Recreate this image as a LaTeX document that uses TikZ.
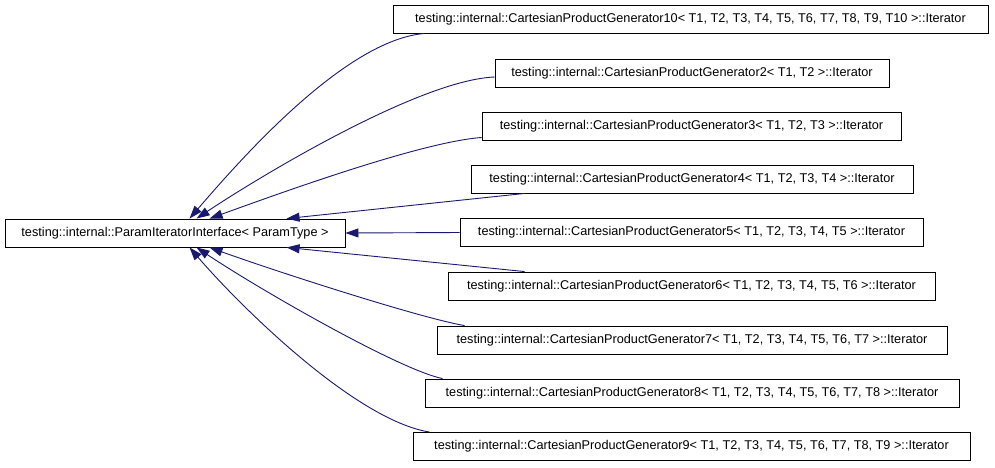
\documentclass[tikz,border=0pt]{standalone}
\usepackage{fontspec}
\setmainfont{Liberation Sans}
\usetikzlibrary{arrows.meta,calc}
\definecolor{edgeblue}{HTML}{191970}
\begin{document}
\begin{tikzpicture}[x=1pt,y=-1pt,
  cls/.style={draw=black, line width=0.9pt, fill=white, minimum height=28pt,
    inner sep=0pt, font=\fontsize{12.7}{14}\selectfont, anchor=center},
  inh/.style={draw=edgeblue, line width=0.9pt,
    -{Triangle[length=13pt,width=9pt]}}]
\useasboundingbox (0,0) rectangle (995,467);
\node[cls, minimum width=340pt] (base) at (175,233) {testing::internal::ParamIteratorInterface< ParamType >};
\node[cls, minimum width=595pt] (g10) at (690.5,19) {testing::internal::CartesianProductGenerator10< T1, T2, T3, T4, T5, T6, T7, T8, T9, T10 >::Iterator};
\node[cls, minimum width=394pt] (g2) at (692,73) {testing::internal::CartesianProductGenerator2< T1, T2 >::Iterator};
\node[cls, minimum width=419pt] (g3) at (691.5,126.5) {testing::internal::CartesianProductGenerator3< T1, T2, T3 >::Iterator};
\node[cls, minimum width=442pt] (g4) at (692,179) {testing::internal::CartesianProductGenerator4< T1, T2, T3, T4 >::Iterator};
\node[cls, minimum width=463pt] (g5) at (691.5,232.5) {testing::internal::CartesianProductGenerator5< T1, T2, T3, T4, T5 >::Iterator};
\node[cls, minimum width=487pt] (g6) at (691.5,286) {testing::internal::CartesianProductGenerator6< T1, T2, T3, T4, T5, T6 >::Iterator};
\node[cls, minimum width=510pt] (g7) at (692,340) {testing::internal::CartesianProductGenerator7< T1, T2, T3, T4, T5, T6, T7 >::Iterator};
\node[cls, minimum width=534pt] (g8) at (692,393) {testing::internal::CartesianProductGenerator8< T1, T2, T3, T4, T5, T6, T7, T8 >::Iterator};
\node[cls, minimum width=557pt] (g9) at (691.5,446.5) {testing::internal::CartesianProductGenerator9< T1, T2, T3, T4, T5, T6, T7, T8, T9 >::Iterator};

\draw[inh] ([xshift=32pt]g10.south west) .. controls (345,40) and (240,160) .. ([xshift=185pt]base.north west);
\draw[inh] ([yshift=-4pt]g2.west) .. controls (420,80) and (262,175) .. ([xshift=192pt]base.north west);
\draw[inh] ([yshift=-11pt]g3.west) .. controls (420,142) and (275,195) .. ([xshift=205pt]base.north west);
\draw[inh] ([xshift=54pt]g4.south west) -- ([xshift=282pt]base.north west);
\draw[inh] (g5.west) -- (base.east);
\draw[inh] ([xshift=77pt]g6.north west) -- ([xshift=282pt]base.south west);
\draw[inh] ([xshift=28pt]g7.north west) .. controls (420,318) and (275,271) .. ([xshift=205pt]base.south west);
\draw[inh] ([xshift=18pt]g8.north west) .. controls (400,370) and (262,291) .. ([xshift=192pt]base.south west);
\draw[inh] ([xshift=17pt]g9.north west) .. controls (355,420) and (240,306) .. ([xshift=185pt]base.south west);
\end{tikzpicture}
\end{document}
